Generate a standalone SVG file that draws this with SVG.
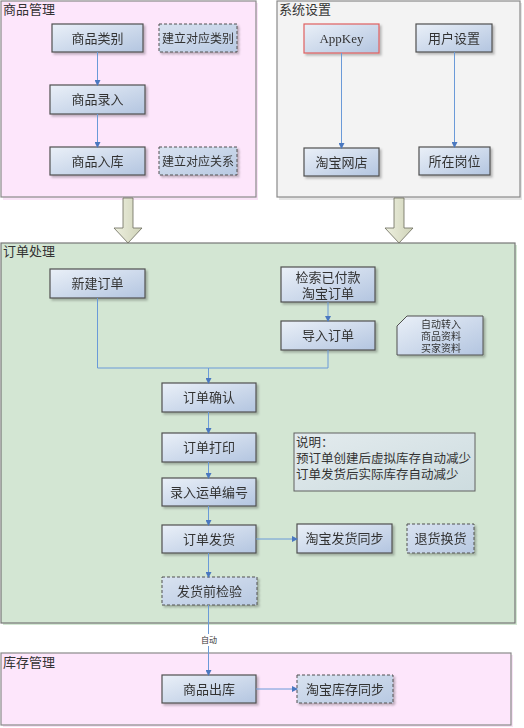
<svg xmlns="http://www.w3.org/2000/svg" width="524" height="728" viewBox="0 0 524 728">
<defs>
<linearGradient id="ng" x1="0" y1="0" x2="1" y2="1">
<stop offset="0" stop-color="#eaf0f8"/>
<stop offset="1" stop-color="#b3c5e0"/>
</linearGradient>
<linearGradient id="dg" x1="0" y1="0" x2="1" y2="1">
<stop offset="0" stop-color="#d8e2f0"/>
<stop offset="1" stop-color="#b8c9e2"/>
</linearGradient>
<linearGradient id="sg" x1="0" y1="0" x2="1" y2="1">
<stop offset="0" stop-color="#e3ebee"/>
<stop offset="1" stop-color="#cddcdf"/>
</linearGradient>
<linearGradient id="bg" x1="0" y1="0" x2="1" y2="0">
<stop offset="0" stop-color="#eef0e0"/>
<stop offset="1" stop-color="#cfd3b8"/>
</linearGradient>
<marker id="ah" markerWidth="6" markerHeight="6" refX="5" refY="3" orient="auto" markerUnits="userSpaceOnUse">
<path d="M0,0 L6,3 L0,6 Z" fill="#4a78c0"/>
</marker>
<filter id="sh" x="-10%" y="-10%" width="130%" height="140%">
<feDropShadow dx="2" dy="2" stdDeviation="1" flood-color="#000" flood-opacity="0.25"/>
</filter>
</defs>
<style>
text{font-family:"Liberation Serif","Noto Sans CJK SC",serif;fill:#333}
.t{font-size:13px;text-anchor:middle}
.ts{font-size:12px;text-anchor:middle}
.pt{font-size:13px}
.n{fill:url(#ng);stroke:#505050;stroke-width:1.2}
.d{fill:url(#dg);stroke:#505050;stroke-width:1;stroke-dasharray:3,2}
.c{fill:none;stroke:#6a9ad8;stroke-width:1}
.pp{fill:#fde6fb;stroke:#8a8a8a;stroke-width:1.2}
.pg{fill:#f3f3f3;stroke:#8a8a8a;stroke-width:1.2}
.pgr{fill:#d3e6d3;stroke:#777;stroke-width:1.2}
</style>

<g id="panel-goods">
<rect x="3" y="3" width="255" height="197" fill="#f4c8f0" opacity="0.5"/>
<rect class="pp" x="1" y="1" width="255" height="196"/>
<text class="pt" x="3" y="14">商品管理</text>
</g>
<g id="panel-system">
<rect x="279" y="3" width="243" height="197" fill="#ccc" opacity="0.5"/>
<rect class="pg" x="277" y="1" width="243" height="196"/>
<text class="pt" x="279" y="14">系统设置</text>
</g>
<g id="panel-order">
<rect x="3" y="245" width="514" height="380" fill="#b8d8b8" opacity="0.6"/>
<rect class="pgr" x="1" y="243" width="514" height="380"/>
<text class="pt" x="3" y="256">订单处理</text>
</g>
<g id="panel-stock">
<rect x="3" y="655" width="510" height="72" fill="#f0c8ec" opacity="0.5"/>
<rect class="pp" x="1" y="653" width="510" height="72"/>
<text class="pt" x="3" y="667">库存管理</text>
</g>

<g id="big-arrows">
<path d="M123,198 L133,198 L133,228 L142,228 L128,243 L114,228 L123,228 Z" fill="url(#bg)" stroke="#6a6a5a" stroke-width="0.8"/>
<path d="M394,198 L404,198 L404,228 L413,228 L399,243 L385,228 L394,228 Z" fill="url(#bg)" stroke="#6a6a5a" stroke-width="0.8"/>
</g>

<g id="n-spfl" filter="url(#sh)"><rect class="n" x="52" y="24" width="91" height="28"/><text class="t" x="97.5" y="43">商品类别</text></g>
<g id="n-jldylb" filter="url(#sh)"><rect class="d" x="159" y="24" width="78" height="28"/><text class="ts" x="198" y="42.5">建立对应类别</text></g>
<g id="n-splr" filter="url(#sh)"><rect class="n" x="50" y="85" width="95" height="29"/><text class="t" x="97.5" y="104">商品录入</text></g>
<g id="n-sprk" filter="url(#sh)"><rect class="n" x="50" y="147" width="95" height="28"/><text class="t" x="97.5" y="166">商品入库</text></g>
<g id="n-jldygx" filter="url(#sh)"><rect class="d" x="159" y="147" width="78" height="28"/><text class="ts" x="198" y="165.5">建立对应关系</text></g>

<g id="n-appkey" filter="url(#sh)"><rect class="n" x="304" y="24" width="75" height="29" style="stroke:#e06060"/><text class="t" x="341.5" y="43">AppKey</text></g>
<g id="n-yhsz" filter="url(#sh)"><rect class="n" x="416" y="24" width="76" height="28"/><text class="t" x="454" y="43">用户设置</text></g>
<g id="n-tbwd" filter="url(#sh)"><rect class="n" x="304" y="148" width="75" height="28"/><text class="t" x="341.5" y="167">淘宝网店</text></g>
<g id="n-szgw" filter="url(#sh)"><rect class="n" x="419" y="147" width="71" height="28"/><text class="t" x="454.5" y="166">所在岗位</text></g>

<g id="n-xjdd" filter="url(#sh)"><rect class="n" x="50" y="269" width="95" height="29"/><text class="t" x="97.5" y="288">新建订单</text></g>
<g id="n-jsyfk" filter="url(#sh)"><rect class="n" x="281" y="267" width="94" height="35"/><text class="t" x="328" y="282">检索已付款</text><text class="t" x="328" y="298">淘宝订单</text></g>
<g id="n-drdd" filter="url(#sh)"><rect class="n" x="281" y="321" width="94" height="29"/><text class="t" x="328" y="340">导入订单</text></g>
<g id="n-note" filter="url(#sh)"><path class="n" d="M407,316 L483,316 L483,355 L397,355 L397,326 Z" style="stroke-width:1"/>
<text x="441" y="328" style="font-size:10px;text-anchor:middle">自动转入</text>
<text x="441" y="340" style="font-size:10px;text-anchor:middle">商品资料</text>
<text x="441" y="352" style="font-size:10px;text-anchor:middle">买家资料</text></g>
<g id="n-ddqr" filter="url(#sh)"><rect class="n" x="162" y="383" width="94" height="29"/><text class="t" x="209" y="402">订单确认</text></g>
<g id="n-dddy" filter="url(#sh)"><rect class="n" x="162" y="433" width="94" height="29"/><text class="t" x="209" y="452">订单打印</text></g>
<g id="n-lrydbh" filter="url(#sh)"><rect class="n" x="162" y="478" width="94" height="28"/><text class="t" x="209" y="497">录入运单编号</text></g>
<g id="n-ddfh" filter="url(#sh)"><rect class="n" x="162" y="525" width="94" height="28"/><text class="t" x="209" y="544">订单发货</text></g>
<g id="n-fhqjy" filter="url(#sh)"><rect class="d" x="162" y="577" width="95" height="28"/><text class="t" x="209.5" y="596">发货前检验</text></g>
<g id="n-sm"><rect x="294" y="433" width="181" height="58" fill="url(#sg)" stroke="#606060" stroke-width="1"/>
<text x="296" y="447" style="font-size:12.5px">说明：</text>
<text x="296" y="463" style="font-size:12.5px">预订单创建后虚拟库存自动减少</text>
<text x="296" y="479" style="font-size:12.5px">订单发货后实际库存自动减少</text></g>
<g id="n-tbfhtb" filter="url(#sh)"><rect class="n" x="297" y="524" width="95" height="29"/><text class="t" x="344.5" y="543">淘宝发货同步</text></g>
<g id="n-thhh" filter="url(#sh)"><rect class="d" x="407" y="524" width="67" height="29"/><text class="t" x="440.5" y="543">退货换货</text></g>

<g id="n-spck" filter="url(#sh)"><rect class="n" x="162" y="675" width="94" height="28"/><text class="t" x="209" y="694">商品出库</text></g>
<g id="n-tbkctb" filter="url(#sh)"><rect class="d" x="297" y="675" width="96" height="28"/><text class="t" x="345" y="694">淘宝库存同步</text></g>

<g id="connectors">
<line class="c" x1="97.5" y1="52" x2="97.5" y2="85" marker-end="url(#ah)"/>
<line class="c" x1="97.5" y1="114" x2="97.5" y2="147" marker-end="url(#ah)"/>
<line class="c" x1="341.5" y1="53" x2="341.5" y2="148" marker-end="url(#ah)"/>
<line class="c" x1="454.5" y1="52" x2="454.5" y2="147" marker-end="url(#ah)"/>
<line class="c" x1="328" y1="302" x2="328" y2="321" marker-end="url(#ah)"/>
<polyline class="c" points="97.5,298 97.5,368 208.5,368"/>
<polyline class="c" points="328,350 328,368 208.5,368"/>
<line class="c" x1="208.5" y1="368" x2="208.5" y2="383" marker-end="url(#ah)"/>
<line class="c" x1="208.5" y1="412" x2="208.5" y2="433" marker-end="url(#ah)"/>
<line class="c" x1="208.5" y1="462" x2="208.5" y2="478" marker-end="url(#ah)"/>
<line class="c" x1="208.5" y1="506" x2="208.5" y2="525" marker-end="url(#ah)"/>
<line class="c" x1="208.5" y1="553" x2="208.5" y2="577" marker-end="url(#ah)"/>
<line class="c" x1="256" y1="539" x2="297" y2="539" marker-end="url(#ah)"/>
<line class="c" x1="208.5" y1="605" x2="208.5" y2="675" marker-end="url(#ah)"/>
<rect x="200" y="634" width="18" height="12" fill="#fff"/>
<text x="209" y="643" style="font-size:8px;text-anchor:middle">自动</text>
<line class="c" x1="256" y1="689" x2="297" y2="689" marker-end="url(#ah)"/>
</g>
</svg>
